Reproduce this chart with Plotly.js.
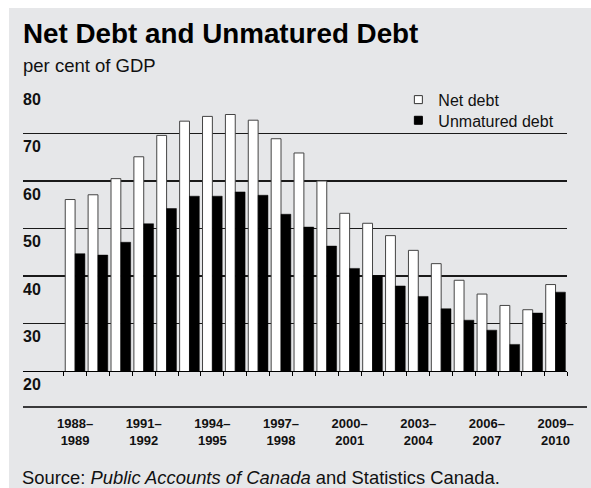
<!DOCTYPE html>
<html><head><meta charset="utf-8">
<script src="https://cdn.plot.ly/plotly-3.0.1.min.js"></script>
<style>html,body{margin:0;padding:0;background:#fff;}#chart{position:absolute;left:9px;top:8px;width:582px;height:480px;}</style>
</head><body><div id="chart"></div>
<script>
const fiscalYears = ["1988–1989","1989–1990","1990–1991","1991–1992","1992–1993","1993–1994","1994–1995","1995–1996","1996–1997","1997–1998","1998–1999","1999–2000","2000–2001","2001–2002","2002–2003","2003–2004","2004–2005","2005–2006","2006–2007","2007–2008","2008–2009","2009–2010"];
const netDebt = [56.1,57.1,60.5,65.1,69.6,72.6,73.6,74.0,72.8,68.9,65.9,60.0,53.2,51.1,48.5,45.4,42.6,39.1,36.2,33.8,32.9,38.2];
const unmaturedDebt = [44.7,44.4,47.1,51.0,54.2,56.8,56.8,57.7,57.0,53.0,50.3,46.3,41.6,40.1,37.9,35.7,33.1,30.7,28.6,25.6,32.2,36.6];
const labelIndex = [0,3,6,9,12,15,18,21];
const xTickText = labelIndex.map(i => fiscalYears[i].replace("–","–<br>"));
const yTickVals = [20,30,40,50,60,70,80];
const seriesNames = ["Net debt","Unmatured debt"];

const xIdx = fiscalYears.map((_, i) => i);
const bounds = fiscalYears.map((_, i) => i - 0.5).concat([fiscalYears.length - 0.5]);
const FONT = "Liberation Sans, Arial, Helvetica, sans-serif";
const BG = "#e6e7e9";

const traces = [
  {type:"bar", x:xIdx, y:netDebt, name:seriesNames[0], showlegend:false,
   marker:{color:"#ffffff", line:{color:"#444444", width:1}}, hoverinfo:"skip"},
  {type:"bar", x:xIdx, y:unmaturedDebt, name:seriesNames[1], showlegend:false,
   marker:{color:"#000000", line:{color:"#000000", width:0.5}}, hoverinfo:"skip"},
  {type:"scatter", mode:"markers", x:[null], y:[null], name:seriesNames[0], legend:"legend",
   marker:{symbol:"square", size:8, color:"#ffffff", line:{color:"#333333", width:1}}},
  {type:"scatter", mode:"markers", x:[null], y:[null], name:seriesNames[1], legend:"legend2",
   marker:{symbol:"square", size:8, color:"#000000", line:{color:"#000000", width:1}}}
];

const legendCommon = {xanchor:"left", yanchor:"top", bgcolor:"rgba(0,0,0,0)",
  font:{size:16, family:FONT, color:"#111"}, itemwidth:30};

const layout = {
  width:582, height:480,
  paper_bgcolor:BG, plot_bgcolor:BG,
  margin:{l:14, r:24, t:78, b:117.3, pad:0},
  font:{family:FONT, color:"#111"},
  barmode:"group", bargap:0.14, bargroupgap:0,
  showlegend:true,
  legend:Object.assign({x:0.690, y:1.0115}, legendCommon),
  legend2:Object.assign({x:0.690, y:0.939}, legendCommon),
  xaxis:{range:[-2.276, fiscalYears.length - 0.5], type:"linear",
         showline:true, linecolor:"#000", linewidth:1.3, showgrid:false, zeroline:false,
         tickmode:"array", tickvals:labelIndex, ticktext:xTickText, ticks:"",
         ticklabelstandoff:40, tickfont:{size:13, family:FONT, weight:"bold", color:"#111"},
         minor:{tickmode:"array", tickvals:bounds, ticks:"outside", ticklen:4, tickwidth:1, tickcolor:"#000", showgrid:false},
         fixedrange:true},
  yaxis:{range:[20,80], tickmode:"array", tickvals:yTickVals, ticks:"",
         showgrid:true, gridcolor:"#1a1a1a", gridwidth:1.2, zeroline:false, showline:false,
         ticklabelposition:"inside", ticklabelshift:13, ticklabelstandoff:-3, ticklabeloverflow:"allow",
         tickfont:{size:16, family:FONT, weight:"bold", color:"#111"}, fixedrange:true},
  shapes:[
    {type:"line", xref:"paper", yref:"paper", x0:0, x1:1.0368, y0:-0.1264, y1:-0.1264,
     line:{color:"#000", width:1.3}}
  ],
  annotations:[
    {text:"Net Debt and Unmatured Debt", xref:"paper", yref:"paper", x:0, y:1.1837, xshift:-2,
     xanchor:"left", yanchor:"middle", showarrow:false,
     font:{size:27.8, family:FONT, weight:"bold", color:"#000"}},
    {text:"per cent of GDP", xref:"paper", yref:"paper", x:0, y:1.072, xshift:-2,
     xanchor:"left", yanchor:"middle", showarrow:false,
     font:{size:18.5, family:FONT, color:"#111"}},
    {text:"Source: <i>Public Accounts of Canada</i> and Statistics Canada.", xref:"paper", yref:"paper", x:0, y:-0.375, xshift:-2,
     xanchor:"left", yanchor:"middle", showarrow:false, borderpad:0,
     font:{size:18.4, family:FONT, color:"#111"}}
  ]
};

Plotly.newPlot("chart", traces, layout, {displayModeBar:false, staticPlot:true});
</script></body></html>
